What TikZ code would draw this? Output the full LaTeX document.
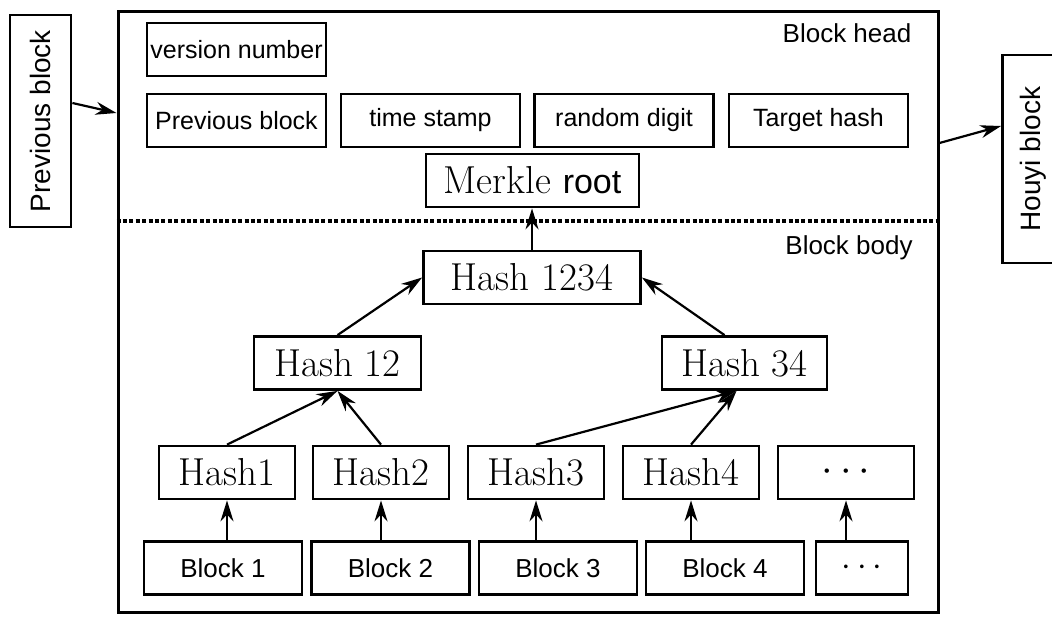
\documentclass[tikz,border=0pt]{standalone}
\usepackage{fontspec}
\setsansfont{Liberation Sans}
\usepackage{tikz}
\usetikzlibrary{arrows.meta}

\begin{document}
\begin{tikzpicture}[
  x=0.5pt, y=-0.5pt,
  box/.style={
    rectangle,
    draw=black,
    line width=1.4pt,
    inner sep=0pt,
    minimum height=26.5pt,
    text centered
  },
  headbox/.style={
    box,
    minimum width=89.5pt,
    font=\sffamily\fontsize{12.5}{15}\selectfont
  },
  hashbox/.style={
    box,
    minimum width=68pt,
    font=\fontsize{19.5}{22}\selectfont
  },
  datablock/.style={
    box,
    minimum width=79pt,
    font=\sffamily\fontsize{13}{15}\selectfont
  },
  sidebox/.style={
    box,
    rotate=90,
    minimum height=30.5pt,
    font=\sffamily\fontsize{14}{16}\selectfont
  },
  parttitle/.style={
    font=\sffamily\fontsize{13}{15}\selectfont
  },
  arrow/.style={
    -{Stealth[length=10.5pt,width=6.5pt]},
    line width=1.1pt
  },
  divider/.style={
    line width=1.6pt,
    dash pattern=on 2pt off 1.2pt
  }
]

  \clip (0,0) rectangle (1052,625);

  % Block frame
  \node[box, line width=1.5pt, minimum width=410pt, minimum height=300pt] (blk) at (528,312) {};
  \draw[divider] (blk.west |- 0,221) -- (blk.east |- 0,221);
  \node[parttitle] (headtitle) at (847,33) {Block head};
  \node[parttitle] (bodytitle) at (849,248) {Block body};

  % Neighbour blocks
  \node[sidebox, minimum width=106pt] (lside) at (40.5,121) {Previous block};
  \node[sidebox, minimum width=104pt] (rside) at (1033,159) {Houyi block};

  % Block head fields
  \node[headbox] (ver) at (236.5,49.5) {version number};
  \node[headbox] (prev) at (236.5,120.5) {Previous block};
  \node[headbox] (time) at (430.5,120.5) {time stamp};
  \node[headbox] (rand) at (624,120.5) {random digit};
  \node[headbox] (target) at (818.5,120.5) {Target hash};
  \node[hashbox, minimum width=106.5pt] (merkle) at (532.5,180.5) {Merkle {\sffamily\fontsize{17}{20}\selectfont root}};

  % Merkle tree
  \node[hashbox, minimum width=108.5pt] (h1234) at (532,277.5) {Hash 1234};
  \node[hashbox, minimum width=83.5pt] (h12) at (337.5,363) {Hash 12};
  \node[hashbox, minimum width=82.5pt] (h34) at (744.5,363) {Hash 34};

  \node[hashbox] (h1) at (227,472.5) {Hash1};
  \node[hashbox] (h2) at (381,472.5) {Hash2};
  \node[hashbox] (h3) at (536,472.5) {Hash3};
  \node[hashbox] (h4) at (691,472.5) {Hash4};
  \node[hashbox] (h5) at (846,472.5) {$\cdots$};

  % Transactions
  \node[datablock] (b1) at (223,568) {Block 1};
  \node[datablock] (b2) at (390.5,568) {Block 2};
  \node[datablock] (b3) at (558,568) {Block 3};
  \node[datablock] (b4) at (725,568) {Block 4};
  \node[datablock, minimum width=46pt] (b5) at (862,568) {\fontsize{19}{20}\selectfont$\cdots$};

  % Arrows - chain
  \draw[arrow] (lside.south |- 0,103) -- (blk.west |- 0,113);
  \draw[arrow] (blk.east |- 0,143) -- (rside.north |- 0,126);

  % Arrows - blocks to hashes
  \draw[arrow] (b1.north -| h1) -- (h1.south);
  \draw[arrow] (b2.north -| h2) -- (h2.south);
  \draw[arrow] (b3.north -| h3) -- (h3.south);
  \draw[arrow] (b4.north -| h4) -- (h4.south);
  \draw[arrow] (b5.north -| h5) -- (h5.south);

  % Arrows - tree
  \draw[arrow] (h1.north) -- (h12.south);
  \draw[arrow] (h2.north) -- (h12.south);
  \draw[arrow] (h3.north) -- ([xshift=-4pt]h34.south);
  \draw[arrow] (h4.north) -- ([xshift=-4pt]h34.south);
  \draw[arrow] (h12.north) -- (h1234.west);
  \draw[arrow] ([xshift=-10pt]h34.north) -- (h1234.east);
  \draw[arrow] (h1234.north) -- (h1234.north |- merkle.south);

\end{tikzpicture}
\end{document}
